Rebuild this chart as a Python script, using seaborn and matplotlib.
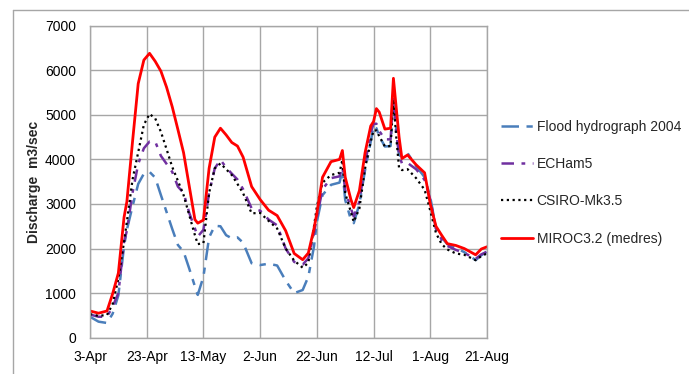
import numpy as np
import pandas as pd
import matplotlib
matplotlib.use("Agg")
import matplotlib.pyplot as plt
import seaborn as sns
from matplotlib.lines import Line2D

# ---- data (day offsets from 3-Apr) ----
days = [0, 3, 6, 8, 10, 12, 13, 15, 17, 19, 21, 23, 25, 27, 29, 31, 33, 35, 37, 38,
        40, 42, 44, 46, 48, 50, 52, 54, 57, 60, 63, 66, 69, 72, 75, 77, 79, 80, 82, 85,
        88, 89, 90, 92, 93, 95, 97, 99, 100, 101, 102, 104, 106, 107, 108, 109, 110, 112,
        115, 118, 120, 122, 124, 126, 129, 132, 136, 138, 140]

flood_2004 = [470, 360, 330, 540, 950, 2050, 2420, 2950, 3450, 3680, 3720, 3590, 3200, 2820, 2440, 2080, 1930, 1550, 1150, 960,
              1370, 2250, 2510, 2500, 2300, 2230, 2250, 2130, 1670, 1630, 1660, 1620, 1280, 1000, 1070, 1370, 2050, 2600, 3200, 3430,
              3480, 3760, 3090, 2650, 2570, 3000, 3760, 4400, 4750, 4700, 4520, 4290, 4300, 5520, 4700, 4100, 4060, 4140,
              3850, 3600, 3150, 2450, 2250, 2100, 2010, 1920, 1740, 1850, 1930]

echam5 = [520, 470, 470, 700, 1000, 2150, 2400, 3250, 3900, 4250, 4400, 4400, 4080, 3900, 3720, 3390, 3250, 2800, 2450, 2270,
          2420, 3250, 3800, 3990, 3820, 3680, 3550, 3330, 2900, 2850, 2650, 2520, 2000, 1700, 1640, 1780, 2350, 2700, 3330, 3580,
          3620, 3840, 3310, 2900, 2720, 3050, 3900, 4600, 4800, 4800, 4640, 4450, 4450, 5450, 4600, 4100, 3910, 3920,
          3780, 3540, 3100, 2450, 2200, 2060, 1970, 1900, 1770, 1870, 1930]

csiro = [530, 490, 510, 760, 1320, 2150, 2600, 3550, 4160, 4780, 5020, 4920, 4620, 4230, 3830, 3520, 3200, 2750, 2300, 2100,
         2120, 3250, 3800, 3910, 3780, 3650, 3450, 3240, 2790, 2800, 2620, 2450, 2000, 1730, 1570, 1680, 2500, 2940, 3480, 3650,
         3700, 3990, 3240, 2820, 2600, 2900, 3800, 4400, 4650, 4650, 4520, 4290, 4300, 5350, 4500, 3800, 3760, 3780,
         3580, 3320, 2850, 2350, 2100, 1980, 1890, 1860, 1740, 1830, 1890]

miroc = [600, 550, 600, 990, 1450, 2700, 3050, 4400, 5700, 6230, 6380, 6200, 5980, 5620, 5180, 4670, 4150, 3400, 2650, 2570,
         2640, 3800, 4500, 4700, 4550, 4380, 4300, 4050, 3390, 3100, 2860, 2740, 2400, 1890, 1750, 1900, 2450, 2790, 3600, 3950,
         4000, 4200, 3600, 3100, 2920, 3300, 4150, 4750, 4850, 5140, 5060, 4680, 4700, 5820, 5150, 4500, 4020, 4100,
         3880, 3700, 3000, 2500, 2300, 2110, 2070, 2000, 1860, 1990, 2040]

series_names = ["Flood hydrograph 2004", "ECHam5", "CSIRO-Mk3.5", "MIROC3.2 (medres)"]
tick_days = [0, 20, 40, 60, 80, 100, 120, 140]
tick_labels = ["3-Apr", "23-Apr", "13-May", "2-Jun", "22-Jun", "12-Jul", "1-Aug", "21-Aug"]
y_ticks = [0, 1000, 2000, 3000, 4000, 5000, 6000, 7000]

# ---- styling ----
sns.set_theme(style="white")
plt.rcParams['font.family'] = ['Liberation Sans', 'DejaVu Sans']

fig = plt.figure(figsize=(6.89, 3.74), dpi=100)
ax = fig.add_axes([90/689, 1-337.7/374, (487-90)/689, (337.7-25.7)/374])

styles = [
    dict(color="#4a7ebb", lw=1.8, ls=(0, (7, 3, 2.5, 3))),
    dict(color="#7030a0", lw=1.8, ls=(0, (5, 3, 1.5, 3))),
    dict(color="#000000", lw=1.6, ls=(0, (1, 1.6))),
    dict(color="#ff0000", lw=2.0, ls="-"),
]
data_list = [flood_2004, echam5, csiro, miroc]

for name, vals, st in zip(series_names, data_list, styles):
    df = pd.DataFrame({"day": days, "Discharge": vals})
    sns.lineplot(data=df, x="day", y="Discharge", ax=ax, color=st["color"],
                 linewidth=st["lw"], linestyle=st["ls"], label=name, legend=False)

ax.set_xlim(0, 140)
ax.set_ylim(0, 7000)
ax.set_xticks(tick_days)
ax.set_xticklabels(tick_labels)
ax.set_yticks(y_ticks)
ax.set_yticklabels([str(v) for v in y_ticks])
ax.grid(True, color="#a6a6a6", linewidth=1.0)
for sp in ax.spines.values():
    sp.set_color("#a6a6a6")
    sp.set_linewidth(1.0)
ax.tick_params(axis="both", length=0, labelsize=10, colors="black")
ax.tick_params(axis="y", pad=10)
ax.tick_params(axis="x", pad=9)
ax.set_xlabel("")
ax.set_ylabel("Discharge  m3/sec", fontsize=10, fontweight="bold", labelpad=3)

handles = [Line2D([0], [0], color=st["color"], lw=st["lw"], ls=st["ls"]) for st in styles]
ax.legend(handles, series_names, loc="upper left", bbox_to_anchor=(495/689, 1-114/374),
          bbox_transform=fig.transFigure, frameon=False, fontsize=10,
          handlelength=2.3, handletextpad=0.3, labelspacing=1.68, borderaxespad=0)

# outer chart border (partially visible)
fig.add_artist(Line2D([13/689, 13/689], [0, 1-10/374], transform=fig.transFigure, color="#a6a6a6", lw=1))
fig.add_artist(Line2D([13/689, 1], [1-10/374, 1-10/374], transform=fig.transFigure, color="#a6a6a6", lw=1))

fig.savefig("out.png", dpi=100)
